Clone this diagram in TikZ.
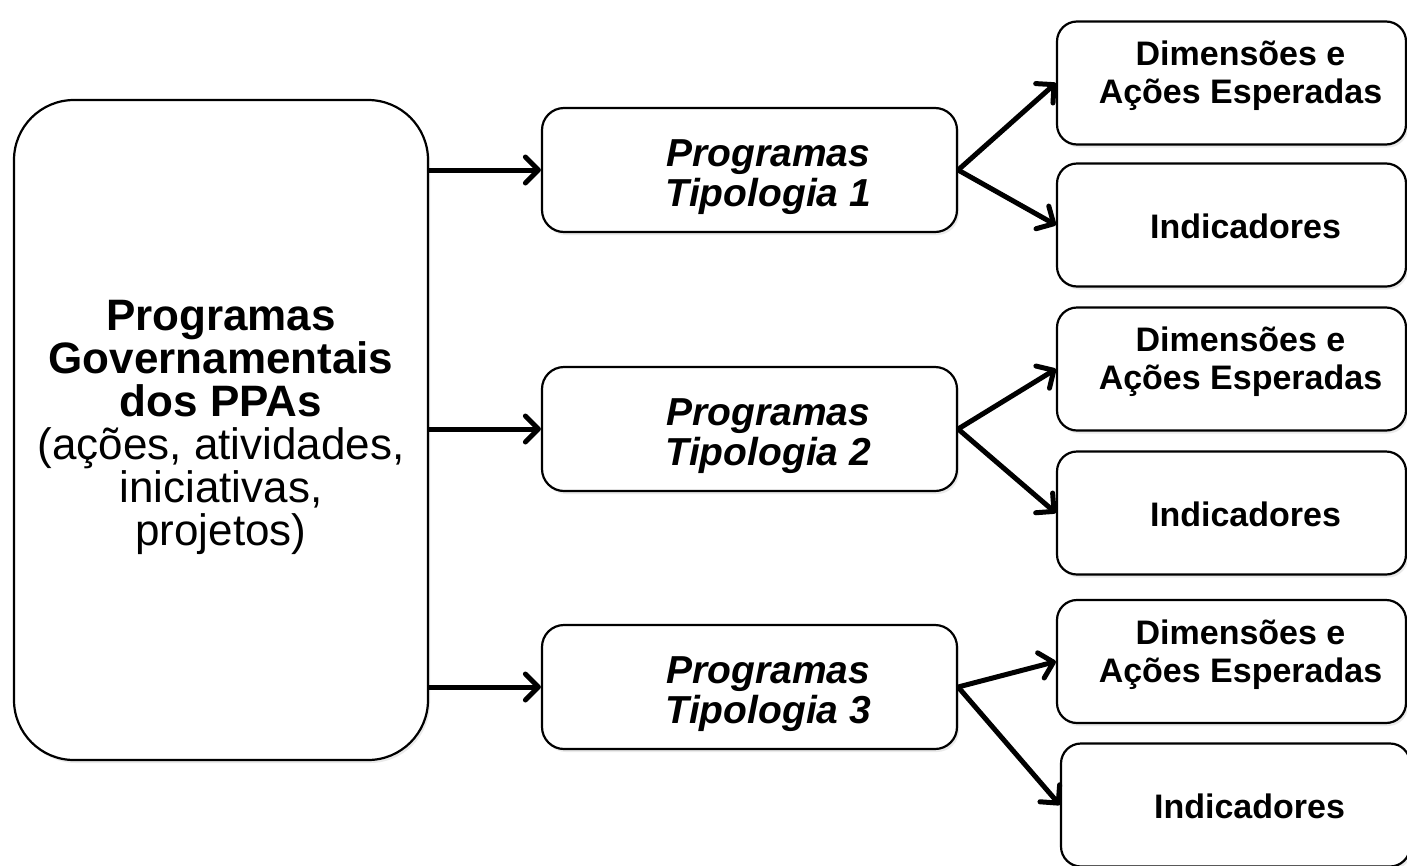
\documentclass[tikz,border=0pt]{standalone}
\usepackage{fontspec}
\setmainfont{Liberation Sans}
\usetikzlibrary{arrows.meta,shadows,calc}
\begin{document}
\begin{tikzpicture}[x=1pt,y=-1pt,
  box/.style={draw=black, line width=2.2pt, fill=white, inner sep=0pt,
    drop shadow={opacity=0.16, shadow xshift=2pt, shadow yshift=-3pt}},
  bigbox/.style={box, rounded corners=60pt, minimum width=414pt, minimum height=660pt},
  midbox/.style={box, rounded corners=22pt, minimum width=415pt, minimum height=124pt},
  sidebox/.style={box, rounded corners=20pt, minimum width=349pt, minimum height=123pt},
  conn/.style={line width=5pt,
    -{Straight Barb[length=13pt,width=26pt,line cap=round,line join=round]}},
  bigtxt/.style={font=\fontsize{44}{43}\selectfont, align=center, inner sep=0pt},
  midtxt/.style={font=\fontsize{39}{40}\selectfont\bfseries\itshape, align=center, inner sep=0pt},
  sidetxt/.style={font=\fontsize{34}{38}\selectfont\bfseries, align=center, inner sep=0pt}
]
\useasboundingbox (0,0) rectangle (1407,865);
\fill[white] (0,0) rectangle (1407,865);

% main source box
\node[bigbox] (big) at (221,430) {};
\node[bigtxt] (bigt) at ($(big.center)+(0,-3)$)
  {\textbf{Programas}\\\textbf{Governamentais}\\\textbf{dos PPAs}\\(ações, atividades,\\iniciativas,\\projetos)};

% program typologies
\node[midbox] (m1) at (749.5,170) {};
\node[midbox] (m2) at (749.5,429) {};
\node[midbox] (m3) at (749.5,687) {};
\node[midtxt] (m1t) at ($(m1.center)+(19,7)$) {Programas\\Tipologia 1};
\node[midtxt] (m2t) at ($(m2.center)+(19,7)$) {Programas\\Tipologia 2};
\node[midtxt] (m3t) at ($(m3.center)+(19,7)$) {Programas\\Tipologia 3};

% dimensions and indicators
\node[sidebox] (d1) at (1231.5,83) {};
\node[sidebox] (i1) at (1231.5,225) {};
\node[sidebox] (d2) at (1231.5,369) {};
\node[sidebox] (i2) at (1231.5,513) {};
\node[sidebox] (d3) at (1231.5,661.5) {};
\node[sidebox] (i3) at (1235.5,805) {};
\foreach \n in {1,2,3}{
  \node[sidetxt] (d\n t) at ($(d\n.center)+(9,-7)$) {Dimensões e\\Ações Esperadas};
  \node[sidetxt] (i\n t) at ($(i\n.center)+(14,1)$) {Indicadores};
}

% connectors
\foreach \n in {1,2,3}{
  \draw[conn] (big.east |- m\n.west) -- (m\n.west);
  \draw[conn] (m\n.east) -- (d\n.west);
  \draw[conn] (m\n.east) -- (i\n.west);
}
\end{tikzpicture}
\end{document}
